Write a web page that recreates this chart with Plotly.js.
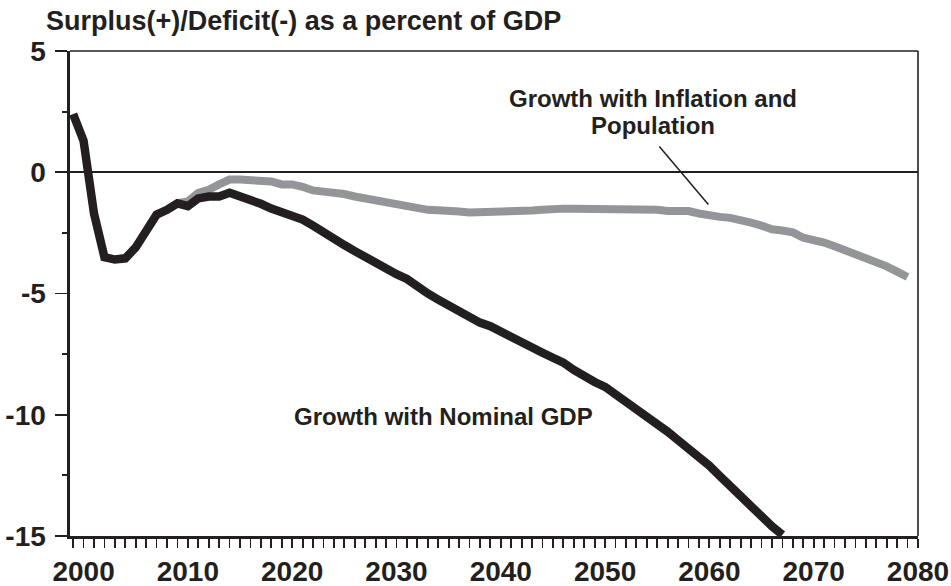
<!DOCTYPE html>
<html>
<head>
<meta charset="utf-8">
<script src="https://cdn.plot.ly/plotly-3.0.1.min.js"></script>
<style>
html,body{margin:0;padding:0;background:#fff;}
#chart{width:951px;height:586px;}
</style>
</head>
<body>
<div id="chart"></div>
<script>
// ---- data ----
const nominalYears = [
  1999,2000,2001,2002,2003,2004,2005,2006,2007,2008,
  2009,2010,2011,2012,2013,2014,2015,2016,2017,2018,
  2019,2020,2021,2022,2023,2024,2025,2026,2027,2028,
  2029,2030,2031,2032,2033,2034,2035,2036,2037,2038,
  2039,2040,2041,2042,2043,2044,2045,2046,2047,2048,
  2049,2050,2051,2052,2053,2054,2055,2056,2057,2058,
  2059,2060,2061,2062,2063,2064,2065,2066,2067
];
const nominalGDP = [
  2.4,1.3,-1.7,-3.5,-3.6,-3.55,-3.1,-2.5,-1.75,-1.55,
  -1.28,-1.4,-1.08,-1.0,-1.0,-0.85,-0.98,-1.12,-1.3,-1.5,
  -1.65,-1.8,-1.95,-2.2,-2.5,-2.72,-3.0,-3.25,-3.5,-3.75,
  -3.9,-4.2,-4.4,-4.72,-5.0,-5.25,-5.5,-5.75,-5.95,-6.2,
  -6.35,-6.55,-6.8,-7.0,-7.2,-7.44,-7.65,-7.85,-8.15,-8.45,
  -8.65,-8.85,-9.15,-9.4,-9.7,-10.0,-10.35,-10.7,-11.05,-11.4,
  -11.7,-12.1,-12.53,-12.95,-13.4,-13.8,-14.2,-14.6,-14.95
];
const inflPopYears = [
  2009,2010,2011,2012,2013,2014,2015,2016,2017,2018,
  2019,2020,2021,2022,2023,2024,2025,2026,2027,2028,
  2029,2030,2031,2032,2033,2034,2035,2036,2037,2038,
  2039,2040,2041,2042,2043,2044,2045,2046,2047,2048,
  2049,2050,2051,2052,2053,2054,2055,2056,2057,2058,
  2059,2060,2061,2062,2063,2064,2065,2066,2067,2068,
  2069,2070,2071,2072,2073,2074,2075,2076,2077,2078,
  2079
];
const inflationPopulation = [
  -1.28,-1.2,-0.85,-0.72,-0.5,-0.3,-0.3,-0.3,-0.3,-0.38,
  -0.5,-0.5,-0.6,-0.75,-0.8,-0.82,-0.9,-1.0,-1.08,-1.13,
  -1.25,-1.28,-1.35,-1.5,-1.55,-1.57,-1.57,-1.62,-1.66,-1.66,
  -1.62,-1.58,-1.58,-1.58,-1.58,-1.55,-1.5,-1.5,-1.5,-1.5,
  -1.5,-1.5,-1.5,-1.5,-1.5,-1.47,-1.55,-1.6,-1.6,-1.6,
  -1.7,-1.8,-1.84,-1.88,-1.95,-2.08,-2.2,-2.35,-2.4,-2.48,
  -2.7,-2.77,-2.9,-3.05,-3.2,-3.36,-3.5,-3.68,-3.88,-4.1,
  -4.32
];
const yTickVals = [5, 0, -5, -10, -15];
const yTickText = ['5', '0', '-5', '-10', '-15'];
const chartTitle = 'Surplus(+)/Deficit(-) as a percent of GDP';
const labelInflPopLine1 = 'Growth with Inflation and';
const labelInflPopLine2 = 'Population';
const labelNominal = 'Growth with Nominal GDP';

// ---- styling ----
const INK = '#231f20';
const GREY = '#939598';
const FONT = 'Liberation Sans, Arial, Helvetica, sans-serif';

const traces = [
  {
    x: inflPopYears, y: inflationPopulation, type: 'scatter', mode: 'lines',
    name: 'Growth with Inflation and Population',
    line: {color: GREY, width: 8}, hoverinfo: 'x+y'
  },
  {
    x: nominalYears, y: nominalGDP, type: 'scatter', mode: 'lines',
    name: 'Growth with Nominal GDP',
    line: {color: INK, width: 8.5}, hoverinfo: 'x+y'
  }
];

const layout = {
  width: 951, height: 586,
  margin: {l: 70, r: 33.4, t: 51, b: 49.5, pad: 0},
  paper_bgcolor: '#ffffff', plot_bgcolor: '#ffffff',
  showlegend: false,
  font: {family: FONT, color: INK},
  title: {
    text: '<b>' + chartTitle + '</b>',
    font: {family: FONT, size: 27, color: INK},
    xref: 'container', yref: 'container',
    x: 46 / 951, xanchor: 'left',
    y: 1 - 21 / 586, yanchor: 'middle'
  },
  xaxis: {
    range: [1998.7, 2080],
    tickmode: 'linear', tick0: 2000, dtick: 10,
    ticks: 'outside', ticklen: 9, tickwidth: 1.8, tickcolor: INK,
    minor: {dtick: 1, tick0: 1999, ticks: 'outside', ticklen: 9, tickwidth: 1.8, tickcolor: INK, showgrid: false},
    showgrid: false, zeroline: false,
    showline: true, linecolor: INK, linewidth: 2.6,
    tickfont: {family: FONT, size: 28, color: INK, weight: 'bold'},
    ticklabelstandoff: 0,
    fixedrange: true
  },
  yaxis: {
    range: [-15, 5],
    tickmode: 'array', tickvals: yTickVals, ticktext: yTickText,
    ticks: 'outside', ticklen: 12, tickwidth: 1.8, tickcolor: INK,
    minor: {dtick: 2.5, tick0: 0, ticks: 'outside', ticklen: 5, tickwidth: 1.8, tickcolor: INK, showgrid: false},
    showgrid: false,
    zeroline: true, zerolinecolor: INK, zerolinewidth: 1.6,
    showline: true, linecolor: INK, linewidth: 2.6,
    tickfont: {family: FONT, size: 28, color: INK, weight: 'bold'},
    ticklabelstandoff: 4,
    fixedrange: true
  },
  shapes: [
    // top and right frame lines
    {type: 'line', xref: 'paper', yref: 'paper', x0: 0, x1: 1, y0: 1, y1: 1, line: {color: INK, width: 1.6}},
    {type: 'line', xref: 'paper', yref: 'paper', x0: 1, x1: 1, y0: 0, y1: 1, line: {color: INK, width: 1.6}},
    // leader line for the upper label
    {type: 'line', xref: 'x', yref: 'y', x0: 2055.2, y0: 1.06, x1: 2059.9, y1: -1.33, line: {color: INK, width: 1.5}}
  ],
  annotations: [
    {
      text: '<b>' + labelInflPopLine1 + '</b>', xref: 'x', yref: 'y',
      x: 2054.6, y: 3.03, showarrow: false, align: 'center',
      font: {family: FONT, size: 24, color: INK}
    },
    {
      text: '<b>' + labelInflPopLine2 + '</b>', xref: 'x', yref: 'y',
      x: 2054.6, y: 1.92, showarrow: false, align: 'center',
      font: {family: FONT, size: 24, color: INK}
    },
    {
      text: '<b>' + labelNominal + '</b>', xref: 'x', yref: 'y',
      x: 2034.5, y: -10.09, showarrow: false, align: 'center',
      font: {family: FONT, size: 24, color: INK}
    }
  ]
};

Plotly.newPlot('chart', traces, layout, {displayModeBar: false, staticPlot: true});
</script>
</body>
</html>
